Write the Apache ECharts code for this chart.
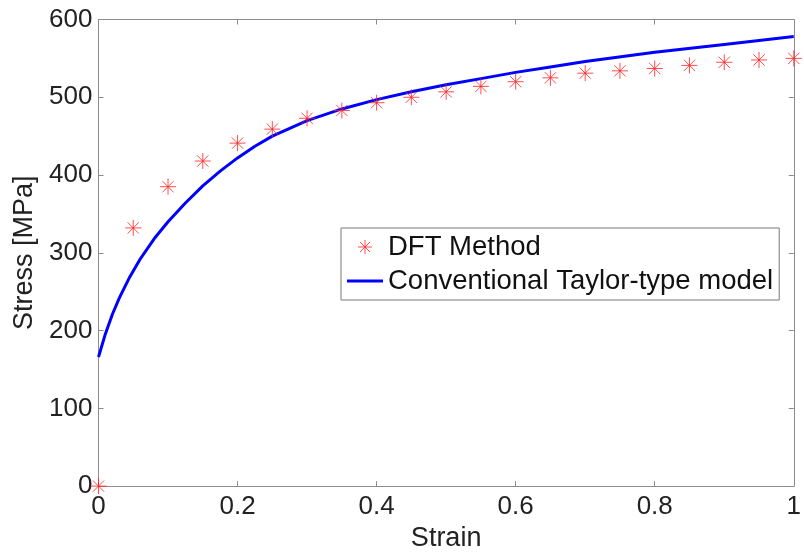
<!DOCTYPE html>
<html>
<head>
<meta charset="utf-8">
<script src="https://cdn.jsdelivr.net/npm/echarts@6/dist/echarts.min.js"></script>
<style>html,body{margin:0;padding:0;background:#fff}#c{width:804px;height:557px}</style>
</head>
<body>
<div id="c"></div>
<script>
// DFT method points (strain, stress)
const dftStrain = [0, 0.05, 0.1, 0.15, 0.2, 0.25, 0.3, 0.35, 0.4, 0.45, 0.5, 0.55, 0.6, 0.65, 0.7, 0.75, 0.8, 0.85, 0.9, 0.95, 1.0];
const dftStress = [0, 332, 385, 418, 441, 459, 473, 483, 493, 500, 507, 514, 520, 525, 531, 534, 537, 541, 545, 548, 550];
// Conventional Taylor-type model curve (strain, stress)
const taylorStrain = [0, 0.01, 0.02, 0.03, 0.045, 0.06, 0.08, 0.1, 0.125, 0.15, 0.175, 0.2, 0.225, 0.25, 0.3, 0.35, 0.4, 0.45, 0.5, 0.55, 0.6, 0.65, 0.7, 0.8, 0.9, 1.0];
const taylorStress = [166, 196, 221, 242, 269, 292, 318, 340, 364, 386, 405, 422, 437, 450, 470, 485, 497, 507, 516, 524, 532, 539, 546, 558, 568, 578];

const xTicks = {min: 0, max: 1, interval: 0.2};
const yTicks = {min: 0, max: 600, interval: 100};

const star = 'path://M0,-10L0,10M-10,0L10,0M-7.07,-7.07L7.07,7.07M-7.07,7.07L7.07,-7.07';
const lineIcon = 'path://M0,0h36v3h-36z';
const font = "'Liberation Sans', Arial, sans-serif";
const axisCol = '#8c8c8c';

const chart = echarts.init(document.getElementById('c'));
const mk = (pos) => ({
  position: pos, axisLine: {show: true, onZero: false, lineStyle: {color: axisCol, width: 1}},
  axisTick: {show: true, inside: true, length: 5, lineStyle: {color: axisCol}},
  splitLine: {show: false}
});
chart.setOption({
  animation: false,
  grid: {left: 98.5, right: 9, top: 19.5, bottom: 64.5},
  xAxis: [
    Object.assign(mk('bottom'), {type: 'value', min: xTicks.min, max: xTicks.max, interval: xTicks.interval,
      name: 'Strain', nameLocation: 'middle', nameGap: 30,
      nameTextStyle: {fontFamily: font, fontSize: 27, color: '#222'},
      axisLabel: {fontFamily: font, fontSize: 26, color: '#222', margin: 8}}),
    Object.assign(mk('top'), {type: 'value', min: xTicks.min, max: xTicks.max, interval: xTicks.interval,
      axisLabel: {show: false}})
  ],
  yAxis: [
    Object.assign(mk('left'), {type: 'value', min: yTicks.min, max: yTicks.max, interval: yTicks.interval,
      name: 'Stress [MPa]', nameLocation: 'middle', nameGap: 55,
      nameTextStyle: {fontFamily: font, fontSize: 27, color: '#222'},
      axisLabel: {fontFamily: font, fontSize: 26, color: '#222', margin: 6}}),
    Object.assign(mk('right'), {type: 'value', min: yTicks.min, max: yTicks.max, interval: yTicks.interval,
      axisLabel: {show: false}})
  ],
  legend: {
    orient: 'vertical', left: 341, top: 228,
    padding: [5, 6, 5, 6], itemGap: 6, itemWidth: 36, itemHeight: 14,
    backgroundColor: '#fff', borderColor: '#777', borderWidth: 1,
    textStyle: {fontFamily: font, fontSize: 27.5, color: '#111'},
    data: [
      {name: 'DFT Method', icon: star, itemStyle: {color: 'none', borderColor: '#ff2020', borderWidth: 1}},
      {name: 'Conventional Taylor-type model', icon: lineIcon, itemStyle: {color: '#0000ff', borderWidth: 0}}
    ]
  },
  series: [
    {
      name: 'Conventional Taylor-type model', type: 'line', smooth: false,
      symbol: 'none', showSymbol: false, z: 2,
      lineStyle: {color: '#0000ff', width: 3, join: 'round'}, itemStyle: {color: '#0000ff'},
      data: taylorStrain.map((x, i) => [x, taylorStress[i]])
    },
    {
      name: 'DFT Method', type: 'scatter', symbol: star, symbolSize: 16, z: 3, clip: false,
      itemStyle: {color: 'none', borderColor: '#ff2020', borderWidth: 1},
      data: dftStrain.map((x, i) => [x, dftStress[i]])
    }
  ]
});
</script>
</body>
</html>
